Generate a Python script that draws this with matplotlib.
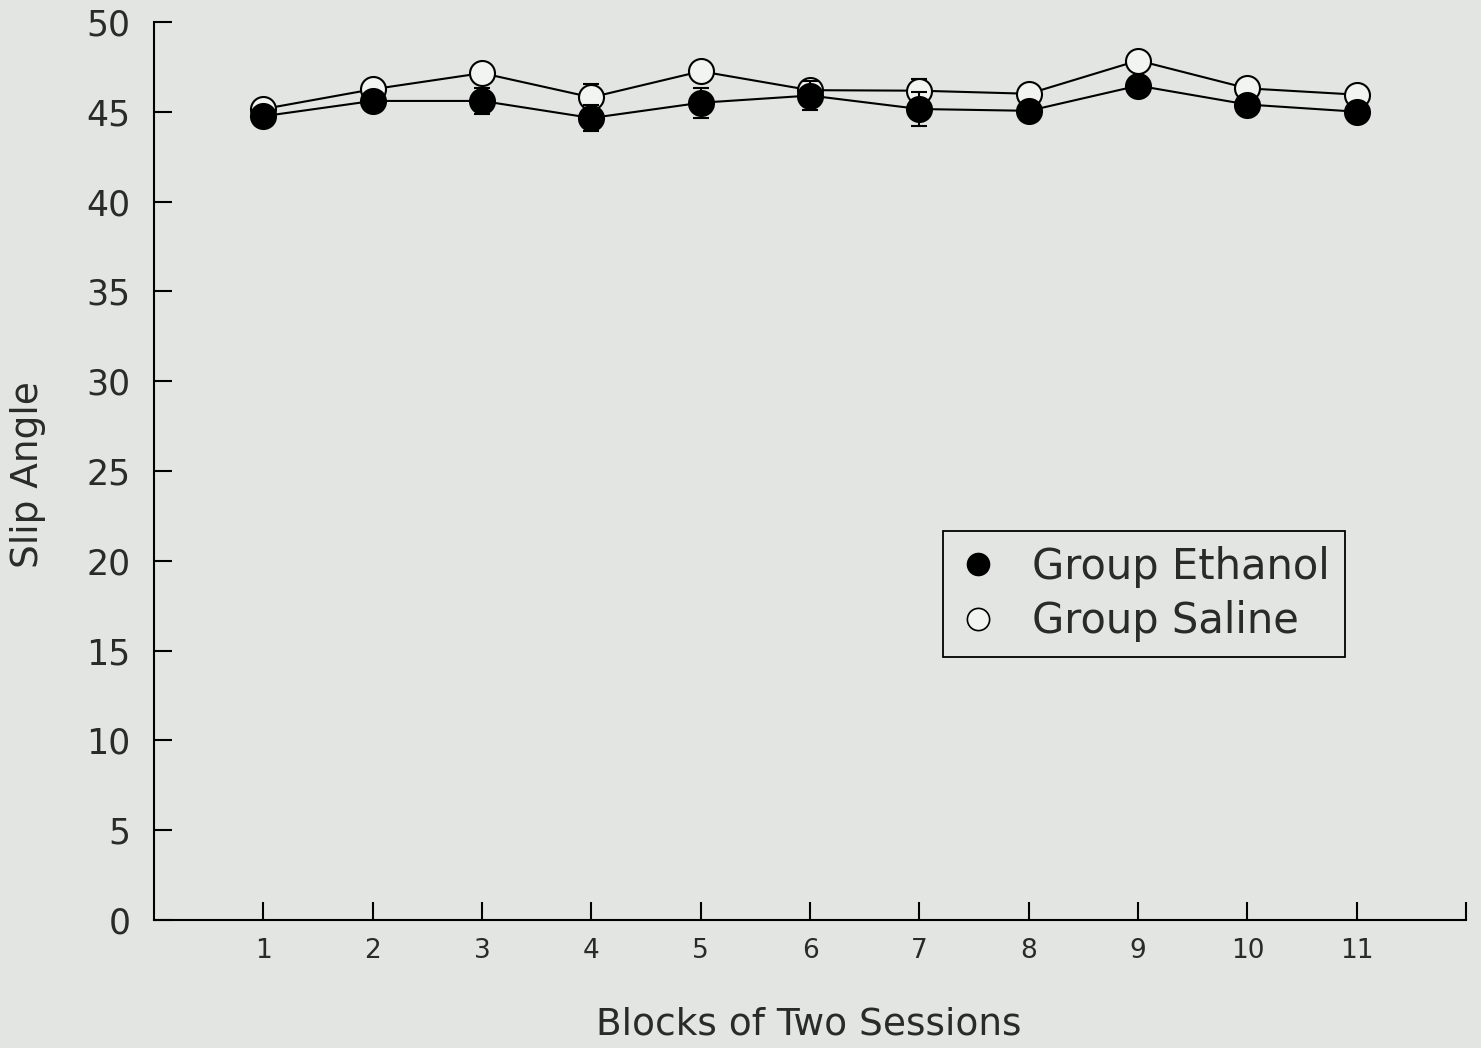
import matplotlib
matplotlib.use("Agg")
import matplotlib.pyplot as plt
from matplotlib.lines import Line2D

# Slip angle by block of two sessions
blocks = [1, 2, 3, 4, 5, 6, 7, 8, 9, 10, 11]
ethanol_mean = [44.75, 45.6, 45.6, 44.65, 45.5, 45.9, 45.15, 45.05, 46.45, 45.4, 45.0]
ethanol_se = [0.4, 0.4, 0.73, 0.73, 0.83, 0.8, 0.93, 0.4, 0.4, 0.4, 0.4]
saline_mean = [45.15, 46.25, 47.15, 45.8, 47.25, 46.2, 46.17, 46.0, 47.85, 46.3, 45.95]
saline_se = [0.4, 0.4, 0.4, 0.75, 0.4, 0.3, 0.65, 0.4, 0.5, 0.4, 0.4]

bg = "#e2e5e1"
txt = "#2a2a2a"
plt.rcParams["font.family"] = ["DejaVu Sans"]

fig = plt.figure(figsize=(14.81, 10.48), dpi=100, facecolor=bg)
ax = fig.add_axes([0.104, 0.1221, 0.886, 0.857], facecolor=bg)

ax.errorbar(blocks, saline_mean, yerr=saline_se, color="black", lw=1.5,
            marker="o", ms=18, mfc="#f2f4f1", mec="black", mew=1.5,
            capsize=6, elinewidth=1.5, capthick=1.5, label="Group Saline", zorder=3)
ax.errorbar(blocks, ethanol_mean, yerr=ethanol_se, color="black", lw=1.5,
            marker="o", ms=18, mfc="black", mec="black", mew=1.5,
            capsize=6, elinewidth=1.5, capthick=1.5, label="Group Ethanol", zorder=4)

ax.set_xlim(0, 12)
ax.set_ylim(0, 50)
ax.set_xticks(list(range(1, 13)))
ax.set_xticklabels([str(b) for b in blocks] + [""])
ax.set_yticks(range(0, 51, 5))

for side in ("top", "right"):
    ax.spines[side].set_visible(False)
for side in ("left", "bottom"):
    ax.spines[side].set_linewidth(1.5)

ax.tick_params(axis="x", direction="in", length=13, width=1.5, pad=13,
               labelsize=19, colors="black")
ax.tick_params(axis="y", direction="in", length=13, width=1.5, pad=17,
               labelsize=25, colors="black")
for lbl in ax.get_xticklabels() + ax.get_yticklabels():
    lbl.set_color(txt)

ax.set_xlabel("Blocks of Two Sessions", fontsize=27, color=txt, va="center")
ax.xaxis.set_label_coords(0.499, -0.116)
ax.set_ylabel("Slip Angle", fontsize=27, color=txt, va="center")
ax.yaxis.set_label_coords(-0.096, 0.4955)

leg_handles = [
    Line2D([], [], ls="none", marker="o", ms=16, mfc="black", mec="black"),
    Line2D([], [], ls="none", marker="o", ms=16, mfc="#f2f4f1", mec="black", mew=1.2),
]
leg = ax.legend(leg_handles, ["Group Ethanol", "Group Saline"],
                loc="upper left", bbox_to_anchor=(0.601, 0.433),
                fontsize=30, frameon=True, fancybox=False, edgecolor="black",
                facecolor=bg, framealpha=1, handlelength=1.0, handletextpad=0.8,
                borderpad=0.35, labelspacing=0.3, borderaxespad=0)
leg.get_frame().set_linewidth(1.3)
for t in leg.get_texts():
    t.set_color(txt)

fig.savefig("out.png", dpi=100, facecolor=bg)
